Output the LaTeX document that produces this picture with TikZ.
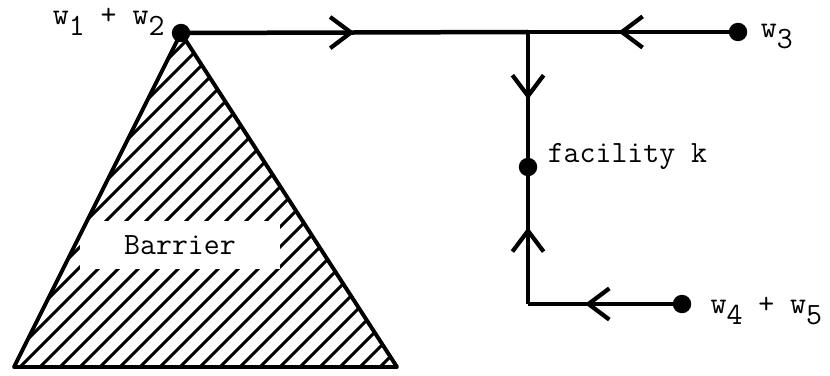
\documentclass[tikz,border=0pt]{standalone}
\usetikzlibrary{arrows.meta, decorations.markings, positioning}
\newcommand{\dn}[1]{\raisebox{-0.8ex}{#1}}
\begin{document}
\begin{tikzpicture}[
    x=0.0125cm, y=-0.0125cm,
    dot/.style   = {circle, fill, inner sep=0pt, minimum size=0.23cm},
    lbl/.style   = {font=\fontsize{11}{13}\selectfont\ttfamily, inner sep=0pt},
    road/.style  = {line width=1.6pt},
    flow/.style  = {road, decoration={markings, mark=at position #1 with
                     {\arrow{Straight Barb[length=2.6mm, width=3.9mm, line width=1.5pt]}}},
                    postaction={decorate}},
  ]
  \useasboundingbox (0,0) rectangle (830,376);

  \node[dot] (p12) at (181,33)  {};
  \node[dot] (p3)  at (738,32)  {};
  \node[dot] (fac) at (528,167) {};
  \node[dot] (p45) at (682,304) {};
  \coordinate (jn) at (528,32);
  \coordinate (cn) at (528,304);
  \coordinate (bl) at (14,367);
  \coordinate (br) at (397,367);

  \begin{scope}
    \clip (p12.center) -- (bl) -- (br) -- cycle;
    \foreach \i in {0,...,38}
      \draw[line width=1.1pt] (\i*20-340,367) -- ++(400,-400);
  \end{scope}
  \node[fill=white, minimum width=2.5cm, minimum height=0.6cm,
        font=\fontsize{11}{13}\selectfont\ttfamily] (bar) at (180,245) {Barrier};
  \draw[line width=1.4pt, line join=round] (p12.center) -- (bl) -- (br) -- cycle;

  \draw[flow=0.5]  (p12.center) -- (jn);
  \draw[flow=0.57] (p3.center)  -- (jn);
  \draw[flow=0.5]  (jn) -- (fac.center);
  \draw[flow=0.63] (p45.center) -- (cn);
  \draw[flow=0.56] (cn) -- (fac.center);

  \node[lbl, anchor=base east] (l12) at ([xshift=-0.2cm, yshift=0.1cm]p12.center)
        {w\dn{1} + w\dn{2}};
  \node[lbl, anchor=base west] (l3)  at ([xshift=0.28cm, yshift=-0.07cm]p3.center) {w\dn{3}};
  \node[lbl, anchor=base west] (lfac) at ([xshift=0.24cm, yshift=0.05cm]fac.center) {facility k};
  \node[lbl, anchor=base west] (l45) at ([xshift=0.35cm, yshift=-0.12cm]p45.center)
        {w\dn{4} + w\dn{5}};
\end{tikzpicture}
\end{document}
